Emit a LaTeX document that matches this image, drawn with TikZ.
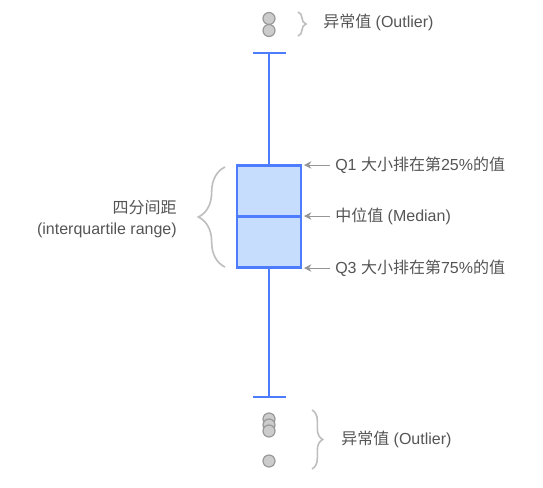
\documentclass[tikz,border=0pt]{standalone}
\usepackage{fontspec}
\setmainfont{Liberation Sans}
\newfontfamily\cjk{Noto Sans CJK SC}
\usepackage{tikz}
\usetikzlibrary{arrows.meta,decorations.pathreplacing}
\definecolor{boxblue}{RGB}{77,124,254}
\definecolor{boxfill}{RGB}{198,221,253}
\definecolor{txtgray}{RGB}{85,85,85}
\definecolor{bracegray}{RGB}{190,190,190}
\definecolor{dotgray}{RGB}{204,204,204}
\definecolor{dotline}{RGB}{153,153,153}
\definecolor{arrgray}{RGB}{150,150,150}

\begin{document}
\begin{tikzpicture}[x=0.75pt,y=0.75pt,yscale=-1,xscale=1,
  lbl/.style={font=\fontsize{12}{14}\selectfont,text=txtgray,inner sep=0.75pt},
  iqrbox/.style={draw=boxblue,fill=boxfill,line width=2.1pt,minimum width=48pt,minimum height=77pt,inner sep=0pt},
  whisk/.style={draw=boxblue,line width=2.1pt},
  outdot/.style={circle,draw=dotline,fill=dotgray,line width=0.9pt,minimum size=9pt,inner sep=0pt},
  ptr/.style={draw=arrgray,line width=0.75pt,shorten <=3pt,-{Stealth[length=5.5pt,width=5.5pt]}},
  brc/.style={draw=bracegray,line width=1.2pt,decorate}]
\useasboundingbox[fill=white] (0,0) rectangle (543,487);

% box and whiskers
\coordinate (wtop) at (269,53);
\coordinate (wbot) at (269,397);
\draw[whisk] (wtop) -- (269,165);
\draw[whisk] (269,268) -- (wbot);
\draw[whisk] (253,53) -- (286,53);
\draw[whisk] (253,397) -- (286,397);
\node[iqrbox] (box) at (269,216.5) {};
\draw[whisk] (box.west) -- (box.east);

% outliers
\node[outdot] (o1) at (269,18.5) {};
\node[outdot] (o2) at (269,30.5) {};
\node[outdot] (o3) at (269,419) {};
\node[outdot] (o4) at (269,425) {};
\node[outdot] (o5) at (269,431) {};
\node[outdot] (o6) at (269,461) {};

% Text Node
\node[lbl,anchor=west] (outtop) at (322,22) {{\cjk 异常值} (Outlier)};
% Text Node
\node[lbl,anchor=west] (outbot) at (340,439) {{\cjk 异常值} (Outlier)};
% Text Node
\node[lbl,anchor=west] (q1) at (334,165) {Q1 {\cjk 大小排在第}25\%{\cjk 的值}};
% Text Node
\node[lbl,anchor=west] (med) at (334,216) {{\cjk 中位值} (Median)};
% Text Node
\node[lbl,anchor=west] (q3) at (334,268) {Q3 {\cjk 大小排在第}75\%{\cjk 的值}};
% Text Node
\node[lbl,anchor=east,align=right] (iqr) at (178,219) {{\cjk 四分间距}\\[2pt](interquartile range)};

%Straight Lines
\draw[ptr] (q1.west) -- (304,165);
\draw[ptr] (med.west) -- (304,216);
\draw[ptr] (q3.west) -- (304,268);

% braces
\draw[brc,decoration={brace,amplitude=6pt}] (298,12) -- (298,36);
\draw[brc,decoration={brace,amplitude=8pt}] (312,410) -- (312,469);
\draw[brc,decoration={brace,amplitude=20pt}] (225,267) -- (225,167);

\end{tikzpicture}
\end{document}
